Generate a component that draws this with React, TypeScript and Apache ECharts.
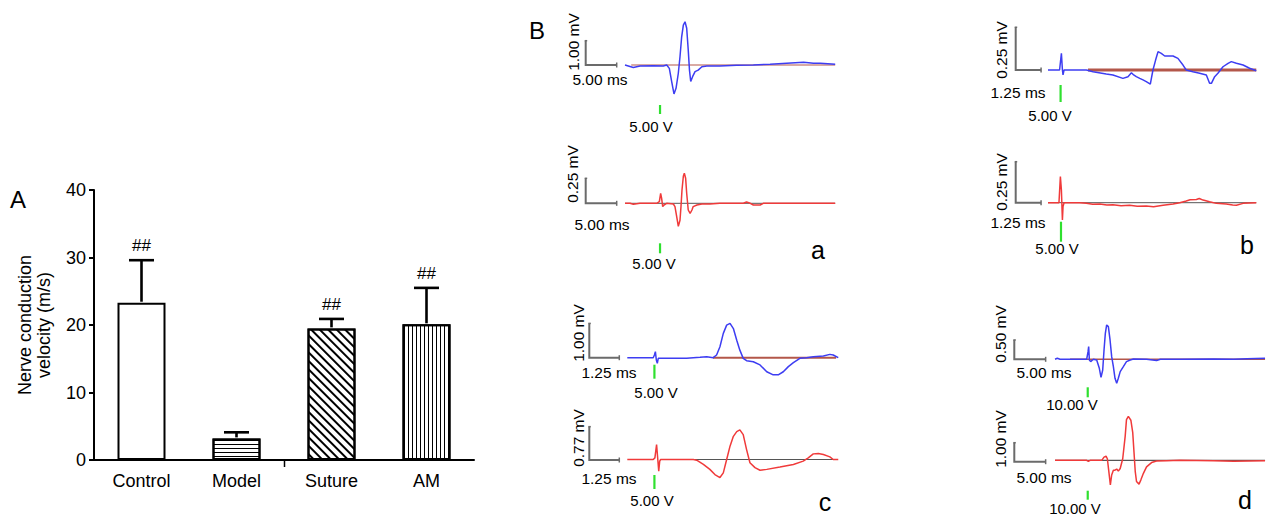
import React, { useEffect, useRef } from 'react';
import * as echarts from 'echarts';

const FONT = '"Liberation Sans", Arial, Helvetica, sans-serif';

// ---------- Panel A data ----------
const categories = ['Control', 'Model', 'Suture', 'AM'];
const ncvMean = [23.3, 3.2, 19.5, 20.1];
const ncvUpper = [29.6, 4.1, 20.9, 25.5];
const sigMarks = ['##', '', '##', '##'];
const yTickLabels = [0, 10, 20, 30, 40];

// ---------- Panel B traces: [time (ms), amplitude (mV)] ----------
const traceA1: number[][] = [
  [0, 0], [1.34, -0.1], [2.42, -0.04], [4.57, -0.03], [6.18, -0.04], [6.72, 0], [7.15, -0.14],
  [7.53, -0.68], [7.9, -1.19], [8.23, -0.96], [8.6, -0.34], [8.87, 0.34], [9.14, 1.16], [9.41, 1.64],
  [9.68, 1.78], [9.95, 1.51], [10.2, 0.62], [10.4, -0.21], [10.6, -0.68], [10.9, -0.48], [11.3, -0.27],
  [11.8, -0.21], [12.4, -0.07], [13.2, -0.04], [15.3, -0.04], [18.0, -0.01], [20.7, 0], [23.4, 0.03],
  [26.1, 0.07], [28.8, 0.11], [30.4, 0.07], [31.5, 0.07], [33.9, 0.03],
];
const traceA2: number[][] = [
  [0, 0], [0.81, 0], [1.34, -0.01], [2.42, 0], [5.11, 0], [5.54, 0.017], [5.75, 0.1], [5.91, 0.05],
  [6.08, -0.033], [6.29, -0.017], [6.72, 0], [7.8, -0.007], [8.06, -0.033], [8.33, -0.13], [8.6, -0.23],
  [8.87, -0.17], [9.03, -0.033], [9.19, 0.13], [9.41, 0.27], [9.57, 0.3], [9.78, 0.25], [9.95, 0.1],
  [10.2, -0.067], [10.5, -0.1], [10.8, -0.067], [11.0, -0.033], [11.6, -0.017], [12.4, -0.007],
  [13.7, -0.007], [15.3, 0], [19.1, 0], [19.6, 0.013], [20.2, 0], [20.7, -0.017], [21.8, -0.017],
  [22.3, 0], [23.9, 0], [33.9, 0],
];
const traceB1: number[][] = [
  [0, 0], [0.57, 0], [0.66, 0.097], [0.71, 0], [0.74, -0.029], [0.79, 0], [1.89, 0], [2.22, -0.01],
  [2.87, -0.023], [3.2, -0.029], [3.69, -0.049], [3.94, -0.039], [4.11, -0.016], [4.22, -0.029],
  [4.35, -0.039], [4.52, -0.049], [4.68, -0.058], [4.84, -0.068], [5.04, -0.082], [5.17, 0],
  [5.3, 0.058], [5.42, 0.107], [5.58, 0.097], [5.75, 0.082], [6.16, 0.082], [6.4, 0.068], [6.65, 0.029],
  [6.81, 0], [7.14, -0.01], [7.47, -0.019], [7.8, -0.029], [7.96, -0.078], [8.05, -0.078], [8.21, -0.039],
  [8.37, -0.019], [8.62, 0.019], [8.87, 0.039], [9.03, 0.049], [9.28, 0.039], [9.61, 0.029],
  [9.93, 0.01], [10.26, -0.004],
];
const traceB2: number[][] = [
  [0, 0], [0.54, 0], [0.61, 0.159], [0.66, 0.077], [0.71, -0.106], [0.74, -0.024], [0.79, 0], [1.56, 0],
  [1.89, -0.004], [2.2, -0.01], [2.55, -0.008], [2.9, -0.014], [3.2, -0.012], [3.6, -0.018], [4.02, -0.016],
  [4.4, -0.022], [4.84, -0.02], [5.2, -0.024], [5.67, -0.016], [6.16, -0.008], [6.49, 0], [6.81, 0.01],
  [7.0, 0.018], [7.31, 0.02], [7.45, 0.026], [7.64, 0.016], [7.96, 0.006], [8.29, -0.004], [8.78, -0.008],
  [9.1, -0.014], [9.28, -0.016], [9.61, -0.004], [10.26, 0],
];
const traceC1: number[][] = [
  [0, 0], [1.08, 0], [1.13, 0.078], [1.17, 0.175], [1.21, -0.068], [1.25, -0.165], [1.29, -0.019],
  [1.36, -0.019], [1.92, -0.019], [2.47, -0.019], [3.03, 0.01], [3.31, 0.029], [3.58, 0], [3.72, 0.078],
  [3.86, 0.32], [4.0, 0.71], [4.14, 0.95], [4.28, 1.0], [4.42, 0.85], [4.56, 0.51], [4.69, 0.22],
  [4.83, -0.019], [4.97, -0.087], [5.25, -0.117], [5.53, -0.21], [5.81, -0.41], [6.08, -0.5],
  [6.29, -0.5], [6.5, -0.41], [6.71, -0.26], [6.92, -0.146], [7.19, -0.019], [7.47, 0], [7.75, 0.029],
  [8.17, 0.049], [8.44, 0.097], [8.58, 0.078], [8.79, 0],
];
const traceC2: number[][] = [
  [0, 0], [1.08, 0], [1.15, 0.038], [1.22, 0.35], [1.26, 0.077], [1.31, -0.27], [1.35, -0.038],
  [1.39, 0], [2.75, 0], [2.89, -0.015], [3.17, -0.115], [3.44, -0.23], [3.65, -0.35], [3.86, -0.42],
  [4.0, -0.31], [4.14, 0], [4.28, 0.31], [4.42, 0.54], [4.56, 0.65], [4.69, 0.69], [4.83, 0.58],
  [4.97, 0.23], [5.11, -0.077], [5.32, -0.19], [5.53, -0.25], [5.81, -0.23], [6.36, -0.177],
  [6.92, -0.115], [7.33, -0.038], [7.54, 0.038], [7.75, 0.131], [7.96, 0.138], [8.17, 0.115],
  [8.44, 0.062], [8.58, 0], [8.79, 0],
];
const traceD1: number[][] = [
  [0, 0], [0.37, 0.026], [0.8, 0], [2.93, 0], [5.05, 0], [5.27, 0.198], [5.37, 0.328], [5.48, -0.017],
  [5.69, -0.06], [6.12, 0], [6.65, -0.017], [7.07, -0.233], [7.34, -0.466], [7.61, -0.276], [7.82, 0.241],
  [8.03, 0.672], [8.24, 0.888], [8.51, 0.845], [8.78, 0.5], [9.04, 0.069], [9.31, -0.19], [9.57, -0.491],
  [9.84, -0.621], [10.1, -0.491], [10.4, -0.319], [10.9, -0.19], [11.4, -0.06], [12.0, -0.017],
  [12.5, 0.009], [14.6, 0], [16.2, -0.034], [16.8, 0], [19.9, 0], [25.3, 0.009], [28.5, 0],
  [30.6, 0.017], [33.5, 0.026],
];
const traceD2: number[][] = [
  [0, 0], [5.05, 0], [5.32, -0.053], [5.59, 0], [7.45, 0], [7.82, 0.175], [8.14, 0.228], [8.35, 0.088],
  [8.56, -0.53], [8.83, -1.32], [9.04, -0.79], [9.31, -0.53], [9.57, -0.53], [9.84, -0.47], [10.1, -0.58],
  [10.4, -0.44], [10.8, 0.088], [11.2, 1.32], [11.4, 2.19], [11.7, 2.37], [12.1, 2.16], [12.4, 1.49],
  [12.6, 0.44], [12.8, -0.61], [13.0, -1.14], [13.4, -1.28], [13.7, -1.05], [14.1, -0.7], [14.6, -0.35],
  [15.4, -0.12], [16.2, -0.035], [17.8, -0.018], [19.9, 0], [25.3, -0.018], [28.5, -0.053], [33.5, -0.018],
];

const traces = [traceA1, traceA2, traceB1, traceB2, traceC1, traceC2, traceD1, traceD2];
const scaleMv = [1.0, 0.25, 0.25, 0.25, 1.0, 0.77, 0.5, 1.0];
const scaleMs = [5, 5, 1.25, 1.25, 1.25, 1.25, 5, 5];
const stimTimes = [5.65, 5.65, 0.62, 0.64, 1.13, 1.13, 5.22, 5.22];
const stimVolts = ['5.00 V', '5.00 V', '5.00 V', '5.00 V', '5.00 V', '5.00 V', '10.00 V', '10.00 V'];
const baselineRanges = [[1, 33.9], [0, 33.9], [1.97, 10.26], [0, 10.26], [3.57, 8.7], [2.82, 8.6], [2.4, 33.5], [0, 33.5]];
const panelLetters = ['a', 'b', 'c', 'd'];

// ---------- styles / layout ----------
const BLUE = '#3d3df2';
const RED = '#f03a3a';
const BROWN = '#b3574a';
const DARK = '#555555';
const BARGRAY = '#6b6b6b';
const GREEN = '#2fe02f';

const traceLayout = [
  { x0: 625, y0: 65, pxMs: 6.2, pxMv: 24.3, color: BLUE, base: BROWN, baseW: 1.2, barX: 585.7, mvPos: [573, 42], msPos: [600, 79], stim: [40, 49], voltPos: [651, 126] },
  { x0: 625, y0: 203.3, pxMs: 6.2, pxMv: 100, color: RED, base: DARK, baseW: 1, barX: 585.7, mvPos: [572, 174], msPos: [602, 224], stim: [40, 50], voltPos: [654, 263] },
  { x0: 1048, y0: 70, pxMs: 20.3, pxMv: 171, color: BLUE, base: BROWN, baseW: 3, barX: 1015.7, mvPos: [1001.7, 50], msPos: [1018, 92], stim: [15, 32], voltPos: [1050, 115] },
  { x0: 1048, y0: 202.7, pxMs: 20.3, pxMv: 164, color: RED, base: DARK, baseW: 1, barX: 1015.7, mvPos: [1001.7, 182], msPos: [1018, 222], stim: [19, 39], voltPos: [1057, 248] },
  { x0: 627.3, y0: 357.7, pxMs: 24, pxMv: 34.3, color: BLUE, base: BROWN, baseW: 2, barX: 589.3, mvPos: [578, 333], msPos: [609, 372], stim: [7, 21], voltPos: [656, 392] },
  { x0: 627.3, y0: 460, pxMs: 24, pxMv: 43.3, color: RED, base: DARK, baseW: 1.2, barX: 589.3, mvPos: [578, 438], msPos: [609, 478], stim: [15, 29], voltPos: [652, 500] },
  { x0: 1055, y0: 359.3, pxMs: 6.27, pxMv: 38.7, color: BLUE, base: BROWN, baseW: 1.5, barX: 1014.3, mvPos: [1000.7, 334], msPos: [1044, 372], stim: [28, 38], voltPos: [1072, 404] },
  { x0: 1055, y0: 461.7, pxMs: 6.27, pxMv: 19, color: RED, base: DARK, baseW: 1.2, barX: 1014.3, mvPos: [1000.7, 439], msPos: [1044, 477], stim: [29, 38], voltPos: [1075, 508] },
];
const letterPos = [[818, 250], [1247, 245], [825, 502], [1245, 500]];

const decals: any[] = [
  null,
  { symbol: 'rect', symbolSize: 1, color: '#000', dashArrayX: [1, 0], dashArrayY: [1, 3], rotation: 0 },
  { symbol: 'rect', symbolSize: 1, color: '#000', dashArrayX: [1, 0], dashArrayY: [2, 4], rotation: Math.PI / 4 },
  { symbol: 'rect', symbolSize: 1, color: '#000', dashArrayX: [1, 3], dashArrayY: [1, 0], rotation: 0 },
];

function buildOption() {
  const grids: any[] = [{ left: 94, top: 190, width: 380, height: 270 }];
  const xAxes: any[] = [{
    type: 'category', gridIndex: 0, data: categories, boundaryGap: true,
    axisLine: { lineStyle: { color: '#000', width: 2 } }, axisTick: { show: false },
    axisLabel: { color: '#000', fontSize: 18, margin: 12, fontFamily: FONT },
  }];
  const yAxes: any[] = [{
    type: 'value', gridIndex: 0, min: yTickLabels[0], max: yTickLabels[yTickLabels.length - 1], interval: 10,
    splitLine: { show: false },
    axisLine: { show: true, lineStyle: { color: '#000', width: 2 } },
    axisTick: { show: true, length: 5, lineStyle: { color: '#000', width: 2 } },
    axisLabel: { color: '#000', fontSize: 18, margin: 8, fontFamily: FONT },
    name: 'Nerve conduction\nvelocity (m/s)', nameLocation: 'middle', nameGap: 41, nameRotate: 90,
    nameTextStyle: { color: '#000', fontSize: 18, lineHeight: 19, fontFamily: FONT },
  }];
  const series: any[] = [
    {
      type: 'bar', xAxisIndex: 0, yAxisIndex: 0, barWidth: 48, z: 2,
      data: ncvMean.map((v, i) => ({
        value: v,
        itemStyle: { color: '#fff', borderColor: '#000', borderWidth: 2, decal: decals[i] || undefined },
      })),
    },
    {
      type: 'custom', xAxisIndex: 0, yAxisIndex: 0, z: 3,
      data: ncvMean.map((v, i) => [i, v, ncvUpper[i]]),
      renderItem: (params: any, api: any) => {
        const i = api.value(0);
        const p0 = api.coord([i, api.value(1)]);
        const p1 = api.coord([i, api.value(2)]);
        const st = { stroke: '#000', lineWidth: 2.6 };
        const children: any[] = [
          { type: 'line', shape: { x1: p0[0], y1: p0[1] - 1, x2: p1[0], y2: p1[1] }, style: st },
          { type: 'line', shape: { x1: p1[0] - 12.5, y1: p1[1], x2: p1[0] + 12.5, y2: p1[1] }, style: st },
        ];
        const s = sigMarks[params.dataIndex];
        if (s) {
          children.push({
            type: 'text',
            style: { text: s, x: p1[0], y: p1[1] - 6, align: 'center', verticalAlign: 'bottom', fontSize: 17, fill: '#000', fontFamily: FONT },
          });
        }
        return { type: 'group', children };
      },
    },
  ];

  const graphics: any[] = [
    { type: 'text', left: 10, top: 187, style: { text: 'A', fontSize: 24, fill: '#000', fontFamily: FONT } },
    { type: 'text', left: 529, top: 18, style: { text: 'B', fontSize: 24, fill: '#000', fontFamily: FONT } },
    { type: 'line', shape: { x1: 284.5, y1: 460, x2: 284.5, y2: 467 }, style: { stroke: '#000', lineWidth: 1.5 } },
  ];

  traces.forEach((tr, k) => {
    const L = traceLayout[k];
    const tEnd = tr[tr.length - 1][0];
    const gi = k + 1;
    grids.push({ left: L.x0, top: L.y0 - 60, width: tEnd * L.pxMs, height: 120 });
    xAxes.push({ type: 'value', gridIndex: gi, min: 0, max: tEnd, show: false, splitLine: { show: false } });
    yAxes.push({ type: 'value', gridIndex: gi, min: -60 / L.pxMv, max: 60 / L.pxMv, show: false, splitLine: { show: false } });
    const br = baselineRanges[k];
    series.push({
      type: 'line', xAxisIndex: gi, yAxisIndex: gi, data: [[br[0], 0], [br[1], 0]],
      symbol: 'none', lineStyle: { color: L.base, width: L.baseW }, z: 2, silent: true,
    });
    series.push({
      type: 'line', xAxisIndex: gi, yAxisIndex: gi, data: tr, symbol: 'none', clip: false,
      lineStyle: { color: L.color, width: 1.5 }, z: 3, silent: true,
    });
    // scale bar
    const vTop = L.y0 - scaleMv[k] * L.pxMv;
    const hEnd = L.barX + scaleMs[k] * L.pxMs;
    graphics.push({
      type: 'polyline', shape: { points: [[L.barX, vTop], [L.barX, L.y0], [hEnd, L.y0]] },
      style: { stroke: BARGRAY, lineWidth: 2, fill: null },
    });
    graphics.push({ type: 'line', shape: { x1: hEnd, y1: L.y0 - 2.5, x2: hEnd, y2: L.y0 + 2.5 }, style: { stroke: BARGRAY, lineWidth: 1.5 } });
    graphics.push({ type: 'line', shape: { x1: L.barX - 1, y1: vTop, x2: L.barX + 1.5, y2: vTop }, style: { stroke: BARGRAY, lineWidth: 1.5 } });
    graphics.push({
      type: 'text', x: L.mvPos[0], y: L.mvPos[1], rotation: Math.PI / 2,
      style: { text: scaleMv[k].toFixed(2) + ' mV', fontSize: 15.5, fill: '#000', align: 'center', verticalAlign: 'middle', fontFamily: FONT },
    });
    graphics.push({
      type: 'text', x: L.msPos[0], y: L.msPos[1],
      style: { text: scaleMs[k].toFixed(2) + ' ms', fontSize: 15.5, fill: '#000', align: 'center', verticalAlign: 'middle', fontFamily: FONT },
    });
    // stimulus marker
    const sx = L.x0 + stimTimes[k] * L.pxMs;
    graphics.push({ type: 'line', shape: { x1: sx, y1: L.y0 + L.stim[0], x2: sx, y2: L.y0 + L.stim[1] }, style: { stroke: GREEN, lineWidth: 2.2 } });
    graphics.push({
      type: 'text', x: L.voltPos[0], y: L.voltPos[1],
      style: { text: stimVolts[k], fontSize: 15, fill: '#000', align: 'center', verticalAlign: 'middle', fontFamily: FONT },
    });
  });

  panelLetters.forEach((l, i) => {
    graphics.push({
      type: 'text', x: letterPos[i][0], y: letterPos[i][1],
      style: { text: l, fontSize: 25, fill: '#000', align: 'center', verticalAlign: 'middle', fontFamily: FONT },
    });
  });

  return {
    animation: false,
    backgroundColor: '#fff',
    textStyle: { fontFamily: FONT },
    grid: grids,
    xAxis: xAxes,
    yAxis: yAxes,
    series,
    graphic: graphics,
  };
}

export default function App() {
  const ref = useRef<HTMLDivElement>(null);
  useEffect(() => {
    if (!ref.current) return;
    const chart = echarts.init(ref.current, undefined, { renderer: 'svg' });
    chart.setOption(buildOption() as any);
    return () => chart.dispose();
  }, []);
  return <div ref={ref} style={{ position: 'fixed', left: 0, top: 0, width: 1267, height: 519 }} />;
}
